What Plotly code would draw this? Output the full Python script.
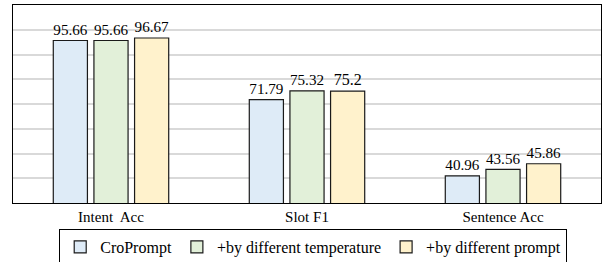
import plotly.graph_objects as go

categories = ["Intent  Acc", "Slot F1", "Sentence Acc"]
series_names = ["CroPrompt", "+by different temperature", "+by different prompt"]
croprompt = [95.66, 71.79, 40.96]
temperature = [95.66, 75.32, 43.56]
prompt = [96.67, 75.2, 45.86]
label_text = [["95.66", "71.79", "40.96"], ["95.66", "75.32", "43.56"], ["96.67", "75.2", "45.86"]]
colors = ["#DEEBF7", "#E2F0D9", "#FFF2CC"]

FONT = "Liberation Serif"

fig = go.Figure()
for name, vals, txt, col in zip(series_names, [croprompt, temperature, prompt], label_text, colors):
    fig.add_trace(go.Bar(
        x=categories, y=vals, name=name,
        marker=dict(color=col, line=dict(color="#1a1a1a", width=1.2)),
        text=txt, textposition="outside", cliponaxis=False,
        textfont=dict(family=FONT, size=16, color="#000"),
    ))

fig.update_layout(
    width=607, height=262,
    margin=dict(l=13, r=6, t=5, b=59, autoexpand=False),
    barmode="group", bargap=0.378, bargroupgap=0.16,
    plot_bgcolor="white", paper_bgcolor="white",
    font=dict(family=FONT, color="#000"),
    showlegend=True,
    legend=dict(orientation="h", xref="container", x=0.516, xanchor="center",
                yref="container", y=1 - 229 / 262, yanchor="top",
                bordercolor="#000", borderwidth=1, font=dict(family=FONT, size=16),
                itemwidth=30, tracegroupgap=0),
)
fig.update_xaxes(showline=True, linecolor="#000", linewidth=1, mirror=True,
                 tickfont=dict(family=FONT, size=15), ticks="", showgrid=False)
fig.update_yaxes(range=[30, 110], dtick=10, showticklabels=False, showline=True,
                 linecolor="#000", linewidth=1, mirror=True,
                 showgrid=True, gridcolor="#d9d9d9", gridwidth=1.5, zeroline=False, ticks="")

fig.write_html("out.html", config={"displayModeBar": False},
               post_script="document.body.style.margin='0';document.body.style.overflow='hidden';")
